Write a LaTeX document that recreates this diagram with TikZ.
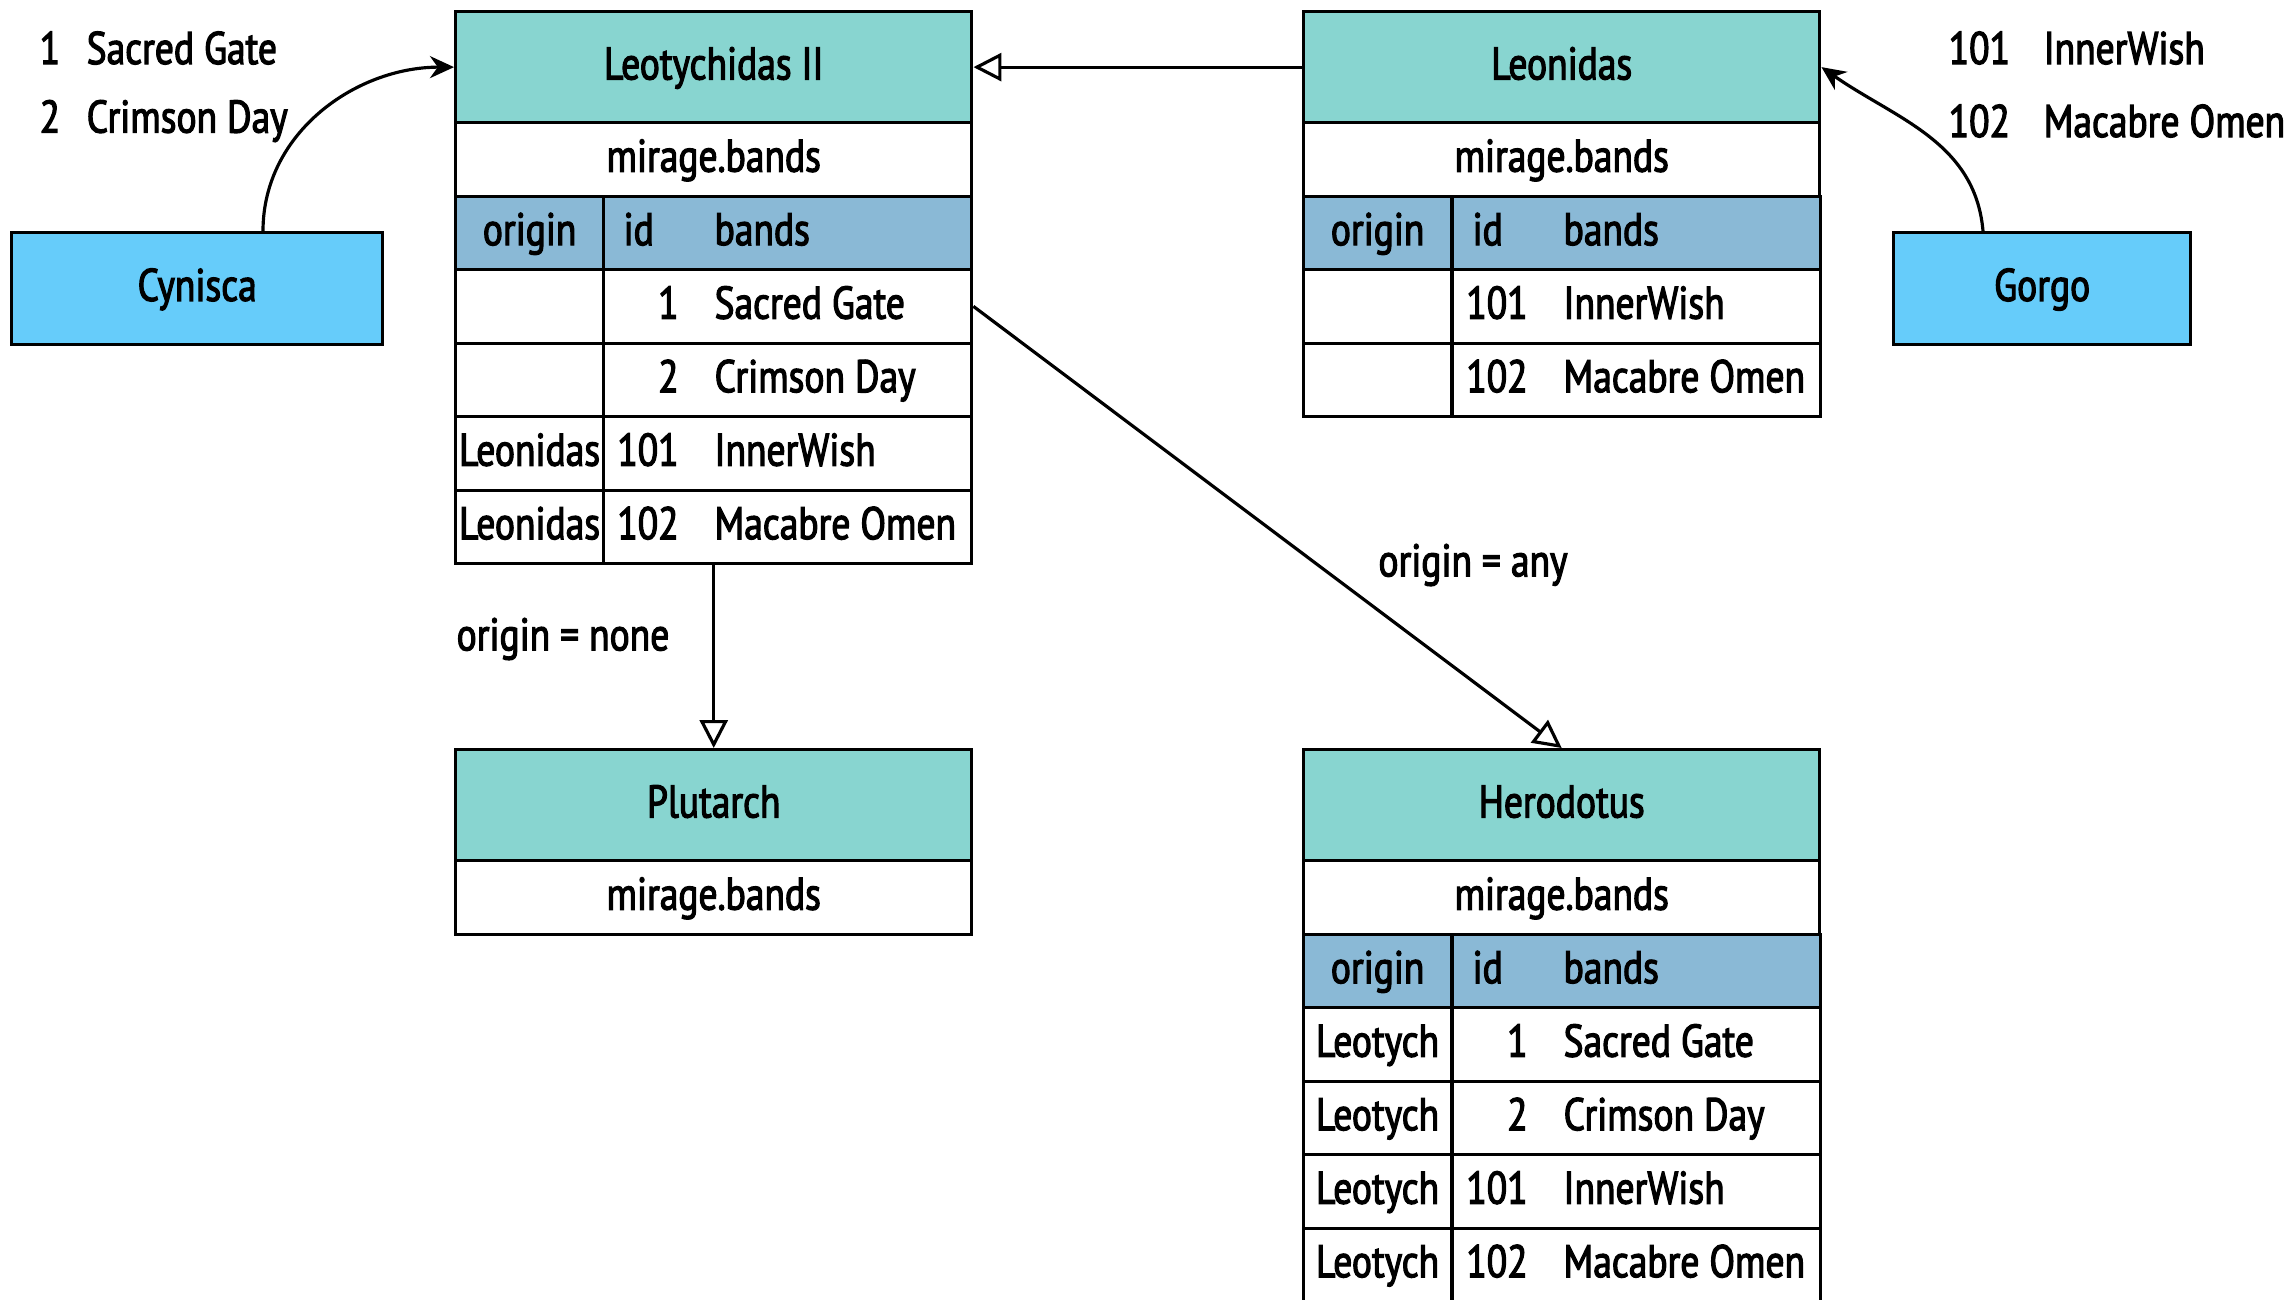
\documentclass[tikz,border=0pt]{standalone}
\usepackage{fontspec}
\setmainfont[FakeStretch=0.82, FakeBold=2.5]{PT Sans}
\usepackage{tikz}
\usetikzlibrary{positioning}
\usetikzlibrary{calc,arrows.meta}

\definecolor{HeadTeal}{HTML}{88D5D0}
\definecolor{ColBlue}{HTML}{8AB9D6}
\definecolor{BoxBlue}{HTML}{66CCFA}

% id column right aligned, band names left aligned
\newcommand{\bandentry}[2]{\makebox[3.34cm][l]{\makebox[0.58cm][r]{#1}\hspace{0.36cm}#2}}
\newcommand{\bandhead}{\makebox[3.34cm][l]{\makebox[0.94cm][l]{\hspace{0.03cm}id}bands}}
\newcommand{\overcell}[1]{\makebox[0pt]{#1}}

\tikzset{
	tabcell/.style={draw, line width=0.9pt, anchor=north west, inner sep=0pt, minimum height=0.735cm, text height=0.95em, text depth=0.25em},
	tabtitle/.style={tabcell, fill=HeadTeal, minimum width=5.16cm, minimum height=1.11cm},
	tabschema/.style={tabcell, minimum width=5.16cm},
	origincell/.style={tabcell, minimum width=1.48cm},
	bandcell/.style={tabcell, minimum width=3.68cm, inner xsep=0.17cm},
	headorigin/.style={origincell, fill=ColBlue},
	headband/.style={bandcell, fill=ColBlue},
	srcbox/.style={draw, line width=0.9pt, fill=BoxBlue, anchor=north west, minimum height=1.12cm, text height=0.95em, text depth=0.25em},
	derivedge/.style={line width=0.9pt, -{Triangle[open, length=0.28cm, width=0.28cm]}},
	feededge/.style={line width=0.9pt, -{Stealth[length=0.24cm, width=0.22cm]}},
}

\begin{document}
\begin{tikzpicture}[x=0.01cm, y=0.01cm, every node/.append style={font=\fontsize{13}{15}\selectfont}]
	
	% picture frame, 1 unit = 1 pixel of the reference, y runs downwards as negative
	\useasboundingbox (0,0) rectangle (2291,-1299);
	
	%%%%%%%%%%%%%%%%%%%%%%%%%%%%%%%%%%%%%%%%%%%%%%%%%%%%%%%%%%%%%%
	% Leotychidas II
	\node[tabtitle] (leoTitle) at (454,-10) {Leotychidas II};
	\node[tabschema] (leoSchema) at (454,-121) {mirage.bands};
	\node[headorigin] (leoHeadA) at (454,-194.5) {origin};
	\node[headband] (leoHeadB) at (602,-194.5) {\bandhead};
	
	\node[origincell] (leoRowA1) at (454,-268) {};
	\node[bandcell] (leoRowB1) at (602,-268) {\bandentry{1}{Sacred Gate}};
	\node[origincell] (leoRowA2) at (454,-341.5) {};
	\node[bandcell] (leoRowB2) at (602,-341.5) {\bandentry{2}{Crimson Day}};
	\node[origincell] (leoRowA3) at (454,-415) {\overcell{Leonidas}};
	\node[bandcell] (leoRowB3) at (602,-415) {\bandentry{101}{InnerWish}};
	\node[origincell] (leoRowA4) at (454,-488.5) {\overcell{Leonidas}};
	\node[bandcell] (leoRowB4) at (602,-488.5) {\bandentry{102}{Macabre Omen}};
	
	%%%%%%%%%%%%%%%%%%%%%%%%%%%%%%%%%%%%%%%%%%%%%%%%%%%%%%%%%%%%%%
	% Leonidas
	\node[tabtitle] (leonTitle) at (1302,-10) {Leonidas};
	\node[tabschema] (leonSchema) at (1302,-121) {mirage.bands};
	\node[headorigin] (leonHeadA) at (1302,-194.5) {origin};
	\node[headband] (leonHeadB) at (1451,-194.5) {\bandhead};
	
	\node[origincell] (leonRowA1) at (1302,-268) {};
	\node[bandcell] (leonRowB1) at (1451,-268) {\bandentry{101}{InnerWish}};
	\node[origincell] (leonRowA2) at (1302,-341.5) {};
	\node[bandcell] (leonRowB2) at (1451,-341.5) {\bandentry{102}{Macabre Omen}};
	
	%%%%%%%%%%%%%%%%%%%%%%%%%%%%%%%%%%%%%%%%%%%%%%%%%%%%%%%%%%%%%%
	% Plutarch
	\node[tabtitle] (pluTitle) at (454,-748) {Plutarch};
	\node[tabschema] (pluSchema) at (454,-859) {mirage.bands};
	
	%%%%%%%%%%%%%%%%%%%%%%%%%%%%%%%%%%%%%%%%%%%%%%%%%%%%%%%%%%%%%%
	% Herodotus
	\node[tabtitle] (herTitle) at (1302,-748) {Herodotus};
	\node[tabschema] (herSchema) at (1302,-859) {mirage.bands};
	\node[headorigin] (herHeadA) at (1302,-932.5) {origin};
	\node[headband] (herHeadB) at (1451,-932.5) {\bandhead};
	
	\foreach \i/\id/\band in {1/1/Sacred Gate, 2/2/Crimson Day, 3/101/InnerWish, 4/102/Macabre Omen}{
		\node[origincell] (herRowA\i) at (1302,-1006-73.5*\i+73.5) {Leotych};
		\node[bandcell] (herRowB\i) at (1451,-1006-73.5*\i+73.5) {\bandentry{\id}{\band}};
	}
	
	%%%%%%%%%%%%%%%%%%%%%%%%%%%%%%%%%%%%%%%%%%%%%%%%%%%%%%%%%%%%%%
	% writers and what they send
	\node[srcbox, minimum width=3.71cm] (cynisca) at (10,-231) {Cynisca};
	\node[srcbox, minimum width=2.97cm] (gorgo) at (1892,-231) {Gorgo};
	
	\node[anchor=west, inner sep=0pt] (cynOne) at (39,-48) {\makebox[0.47cm][l]{1}Sacred Gate};
	\node[anchor=west, inner sep=0pt] (cynTwo) at (39,-121) {\makebox[0.47cm][l]{2}Crimson Day};
	\node[anchor=west, inner sep=0pt] (gorOne) at (1948,-48) {\makebox[0.95cm][l]{101}InnerWish};
	\node[anchor=west, inner sep=0pt] (gorTwo) at (1948,-121) {\makebox[0.95cm][l]{102}Macabre Omen};
	
	\coordinate (cynStart) at (263,-231);
	\coordinate (gorStart) at (1983,-231);
	
	\draw[feededge] (cynStart) to[out=90, in=180] (leoTitle.west);
	\draw[feededge] (gorStart) to[out=95, in=-35] (leonTitle.east);
	
	%%%%%%%%%%%%%%%%%%%%%%%%%%%%%%%%%%%%%%%%%%%%%%%%%%%%%%%%%%%%%%
	% derived tables
	\draw[derivedge] (leonTitle.west) -- (leoTitle.east);
	\draw[derivedge] (leoTitle.center |- leoRowA4.south) -- (pluTitle.north);
	\draw[derivedge] (leoRowB1.east) -- (herTitle.north);
	
	\node (noneLabel) at (563,-639) {origin = none};
	\node (anyLabel) at (1473,-565) {origin = any};
	
\end{tikzpicture}
\end{document}
